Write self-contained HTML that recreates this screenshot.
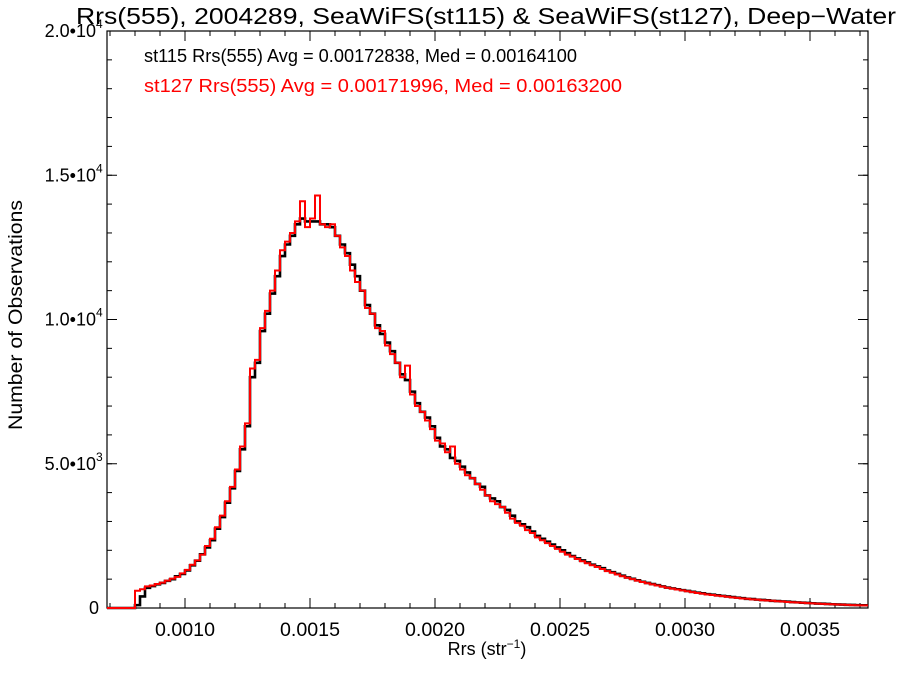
<!DOCTYPE html>
<html><head><meta charset="utf-8"><style>
body{margin:0;background:#fff;}
svg text{font-family:"Liberation Sans",Helvetica,sans-serif;}
</style></head><body>
<svg id="chart" width="900" height="675" xmlns="http://www.w3.org/2000/svg">
<text x="76" y="24" font-size="23" textLength="820" lengthAdjust="spacingAndGlyphs">Rrs(555), 2004289, SeaWiFS(st115) &amp; SeaWiFS(st127), Deep−Water</text>
<text x="144" y="62" font-size="18" fill="#000" textLength="433" lengthAdjust="spacingAndGlyphs">st115 Rrs(555) Avg = 0.00172838, Med = 0.00164100</text>
<text x="144" y="92" font-size="18" fill="#ff0000" textLength="478" lengthAdjust="spacingAndGlyphs">st127 Rrs(555) Avg = 0.00171996, Med = 0.00163200</text>
<text x="487" y="655" font-size="18" text-anchor="middle">Rrs (str<tspan font-size="12" dy="-7">−1</tspan><tspan dy="7">)</tspan></text>
<text transform="translate(22,315) rotate(-90)" font-size="19" text-anchor="middle" textLength="230" lengthAdjust="spacingAndGlyphs">Number of Observations</text>
<g id="axes"></g>
<g id="series"></g>
</svg>
<script>
const binStart = 0.00080;
const binWidth = 0.00002;
const st127Counts = [600,650,750,780,830,880,950,1020,1080,1200,1320,1500,1650,1850,2150,2400,2800,3200,3700,4200,4800,5600,6400,8300,8600,9700,10300,11000,11700,12400,12700,13000,13400,14100,13200,13500,14300,13300,13200,13300,12900,12500,12200,11700,11300,11000,10400,10200,9700,9600,9100,8800,8500,8000,8400,7400,7000,6800,6500,6200,5800,5700,5400,5600,5000,4800,4600,4500,4300,4100,3900,3700,3600,3500,3300,3100,2950,2850,2700,2600,2450,2350,2250,2150,2050,1950,1850,1780,1700,1620,1550,1480,1420,1350,1280,1220,1160,1100,1050,1000,950,900,860,820,780,740,700,670,640,610,580,550,520,500,470,450,430,410,390,370,350,330,320,300,290,270,260,250,235,225,210,200,190,180,170,160,150,145,135,130,120,115,110,100,95,90];
const st115Counts = [100,400,700,760,820,870,940,1000,1100,1180,1300,1480,1640,1860,2100,2350,2750,3150,3650,4150,4750,5500,6300,8000,8500,9600,10200,10900,11500,12200,12600,12900,13300,13500,13400,13400,13400,13300,13300,13200,12900,12600,12300,11900,11500,11000,10500,10200,9800,9500,9200,8900,8500,8100,7900,7500,7100,6800,6600,6300,5900,5600,5500,5200,5100,4900,4700,4500,4300,4200,3900,3800,3700,3500,3400,3200,3000,2900,2800,2650,2500,2400,2300,2200,2100,2000,1900,1800,1720,1650,1580,1500,1440,1380,1300,1240,1180,1120,1060,1010,960,910,870,830,790,750,710,680,650,620,590,560,530,510,480,460,440,420,400,380,360,340,320,310,290,280,265,250,240,230,220,205,195,185,175,165,155,150,140,130,125,120,110,105,100,95];
const xTicks = [0.0010,0.0015,0.0020,0.0025,0.0030,0.0035];
const xTickLabels = ["0.0010","0.0015","0.0020","0.0025","0.0030","0.0035"];
const yTicks = [0,5000,10000,15000,20000];
const yTickLabels = [["0",""],["5.0•10","3"],["1.0•10","4"],["1.5•10","4"],["2.0•10","4"]];

const L=107,R=868,T=31,B=608;
const xMin=0.000688,xMax=0.003732,yMin=0,yMax=20000;
const sx=v=>L+(v-xMin)/(xMax-xMin)*(R-L);
const sy=v=>B-(v-yMin)/(yMax-yMin)*(B-T);
const NS="http://www.w3.org/2000/svg";
const axes=document.getElementById('axes');
function mk(tag,attrs,parent){const e=document.createElementNS(NS,tag);for(const k in attrs)e.setAttribute(k,attrs[k]);parent.appendChild(e);return e;}
const frame=mk('rect',{x:L,y:T,width:R-L,height:B-T,fill:'none',stroke:'#000','stroke-width':1.2},axes);


for(let i=7;i<=37;i++){const x=sx(i*0.0001);
 const t1=mk('line',{x1:x,x2:x,y1:B,y2:B-5,stroke:'#000'},axes);
 
 
 const t2=mk('line',{x1:x,x2:x,y1:T,y2:T+5,stroke:'#000'},axes);
 
 }
xTicks.forEach((v,i)=>{const x=sx(v);
 const a=mk('line',{x1:x,x2:x,y1:B,y2:B-10,stroke:'#000'},axes);
 
 
 const b=mk('line',{x1:x,x2:x,y1:T,y2:T+10,stroke:'#000'},axes);
 
 
 const t=mk('text',{x:x-30,y:B+28,'font-size':19,textLength:60,lengthAdjust:'spacingAndGlyphs'},axes);
 t.textContent=xTickLabels[i];
 
 });
for(let v=1000;v<20000;v+=1000){const y=sy(v);
 const a=mk('line',{x1:L,x2:L+5,y1:y,y2:y,stroke:'#000'},axes);
 
 
 const b=mk('line',{x1:R,x2:R-5,y1:y,y2:y,stroke:'#000'},axes);
 
 }
yTicks.forEach((v,i)=>{const y=sy(v);
 const a=mk('line',{x1:L,x2:L+10,y1:y,y2:y,stroke:'#000'},axes);
 
 
 const b=mk('line',{x1:R,x2:R-10,y1:y,y2:y,stroke:'#000'},axes);
 
 
 const t=mk('text',{x:L-8,y:y+6,'font-size':18,'text-anchor':'end'},axes);
 
 
 if(yTickLabels[i][1]){t.setAttribute('x',L-11);t.textContent=yTickLabels[i][0];
  const s=mk('text',{x:L-11,y:y-3,'font-size':12,'text-anchor':'start'},axes);
  s.textContent=yTickLabels[i][1];
  
  }
 else t.textContent=yTickLabels[i][0];});
const series=document.getElementById('series');
function stepPath(counts){let d=`M${L},${sy(0)} L${sx(binStart)},${sy(0)}`;
 counts.forEach((c,i)=>{const x0=sx(binStart+i*binWidth),x1=sx(binStart+(i+1)*binWidth);d+=` L${x0},${sy(c)} L${x1},${sy(c)}`;});
 d+=` L${R},${sy(counts[counts.length-1])}`;return d;}
const p1=mk('path',{d:stepPath(st115Counts),fill:'none',stroke:'#000','stroke-width':2.6},series);


const p2=mk('path',{d:stepPath(st127Counts),fill:'none',stroke:'#ff0000','stroke-width':2},series);


</script>
</body></html>
